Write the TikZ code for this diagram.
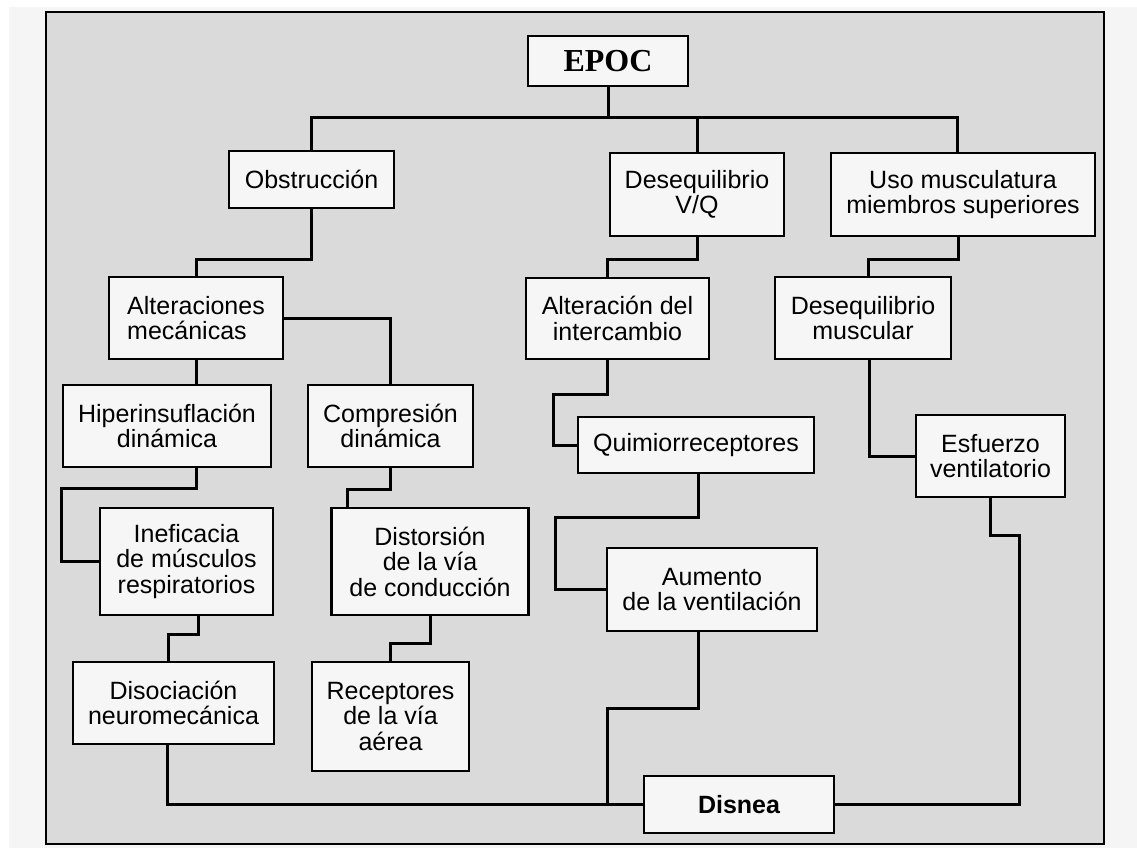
\documentclass[tikz,border=0pt]{standalone}
\usepackage{fontspec}
\setmainfont{Liberation Sans}
\newfontfamily\epocfont{Liberation Serif}
\definecolor{framebg}{RGB}{218,218,218}
\definecolor{boxbg}{RGB}{246,246,246}
\definecolor{outbg}{RGB}{245,245,245}
\tikzset{
  box/.style={draw=black, fill=boxbg, line width=2.2pt, inner sep=0pt, align=center,
    font=\fontsize{25}{25.5}\selectfont},
  conn/.style={draw=black, line width=3pt, line join=miter},
}
\begin{document}
\begin{tikzpicture}[x=1pt, y=-1pt]
\useasboundingbox (0,0) rectangle (1137,848);
\fill[white] (0,0) rectangle (1137,848);
\fill[outbg] (9,7) rectangle (1137,848);
\filldraw[fill=framebg, draw=black, line width=2pt] (46,12) rectangle (1104,844);

% bend points of the connectors
\coordinate (t) at (608,118);
\coordinate (dl) at (1019,535);
\coordinate (hl) at (61,561.5);
\coordinate (al) at (553,445);
\coordinate (ql) at (555,589.5);

% nodes
\node[box, minimum width=160, minimum height=50, font=\epocfont\bfseries\fontsize{32}{34}\selectfont] (epoc) at (608,61) {EPOC};
\node[box, minimum width=165, minimum height=57] (obs) at (311.5,179.5) {Obstrucción};
\node[box, minimum width=174, minimum height=83] (vq) at (697,194.5) {Desequilibrio\\V/Q};
\node[box, minimum width=264, minimum height=83] (uso) at (963,194.5) {Uso musculatura\\miembros superiores};
\node[box, minimum width=174, minimum height=82, align=left] (altm) at (196,318) {Alteraciones\\mecánicas};
\node[box, minimum width=183, minimum height=81] (alti) at (617.5,318.5) {Alteración del\\intercambio};
\node[box, minimum width=176, minimum height=82] (desm) at (863,318) {Desequilibrio\\muscular};
\node[box, minimum width=208, minimum height=82] (hip) at (167,426) {Hiperinsuflación\\dinámica};
\node[box, minimum width=165, minimum height=82] (comp) at (390.5,426) {Compresión\\dinámica};
\node[box, minimum width=236, minimum height=56] (quim) at (696,445) {Quimiorreceptores};
\node[box, minimum width=149, minimum height=82] (esf) at (990.5,456) {Esfuerzo\\ventilatorio};
\node[box, minimum width=173, minimum height=107] (inef) at (186.5,561.5) {Ineficacia\\de músculos\\respiratorios};
\node[box, minimum width=197, minimum height=107] (dist) at (430,561.5) {Distorsión\\de la vía\\de conducción};
\node[box, minimum width=210, minimum height=83] (aum) at (712,589.5) {Aumento\\de la ventilación};
\node[box, minimum width=201, minimum height=82] (dis) at (173.5,703) {Disociación\\neuromecánica};
\node[box, minimum width=157, minimum height=109] (rec) at (390.5,716.5) {Receptores\\de la vía\\aérea};
\node[box, minimum width=190, minimum height=57, font=\bfseries\fontsize{25}{25.5}\selectfont] (disn) at (739,804.5) {Disnea};

% connectors
\draw[conn] (epoc.south) -- (t);
\draw[conn] (obs.north) |- (t) -| (uso.north -| 957,0);
\draw[conn] (t -| vq.north) -- (vq.north);
\draw[conn] (obs.south) -- ++(0,50) -| (altm.north);
\draw[conn] (altm.east) -| (comp.north);
\draw[conn] (altm.south) -- (altm.south |- hip.north);
\draw[conn] (hip.south -| altm.south) -- ++(0,20) -| (hl) -- (inef.west);
\draw[conn] (comp.south) -- ++(0,21) -| (dist.north -| 347,0);
\draw[conn] (inef.south -| 198,0) -- ++(0,18) -| (dis.north -| 168,0);
\draw[conn] (dist.south) -- ++(0,27) -| (rec.north);
\draw[conn] (dis.south -| 167,0) |- (disn.west);
\draw[conn] (aum.south -| 698,0) -- ++(0,76) -| (disn.west -| 607,0);
\draw[conn] (disn.east) -| (dl) -| (esf.south);
\draw[conn] (vq.south) -- ++(0,22) -| (alti.north -| 607,0);
\draw[conn] (alti.south -| 607,0) -- ++(0,34) -| (al) -- (quim.west);
\draw[conn] (quim.south -| 698,0) -- ++(0,43) -| (ql) -- (aum.west);
\draw[conn] (uso.south -| 958,0) -- ++(0,22) -| (desm.north -| 868,0);
\draw[conn] (desm.south -| 869,0) |- (esf.west);
\end{tikzpicture}
\end{document}
